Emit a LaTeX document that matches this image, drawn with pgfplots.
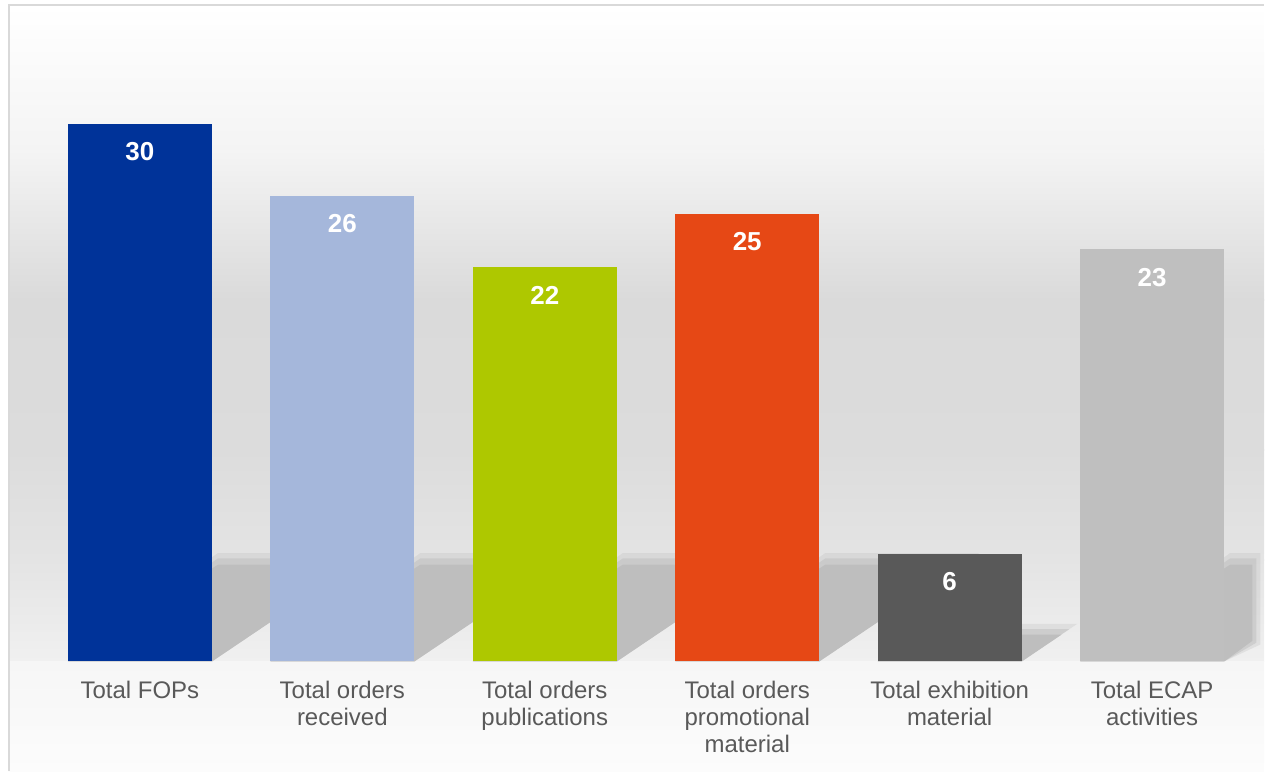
\documentclass[border=0pt]{standalone}
\usepackage{pgfplots}
\pgfplotsset{compat=1.18}
\usepackage{fontspec}
\setmainfont{Liberation Sans}
\definecolor{c1}{HTML}{003399}
\definecolor{c2}{HTML}{A5B7DB}
\definecolor{c3}{HTML}{AEC800}
\definecolor{c4}{HTML}{E64815}
\definecolor{c5}{HTML}{595959}
\definecolor{c6}{HTML}{BFBFBF}
\definecolor{shadowc}{HTML}{BEBEBE}
\definecolor{framec}{HTML}{D9D9D9}
\definecolor{labelc}{HTML}{595959}
\definecolor{g1}{HTML}{F4F4F4}
\definecolor{g2}{HTML}{DADADA}
\definecolor{g3}{HTML}{DCDCDC}
\definecolor{g4}{HTML}{E4E4E4}
\definecolor{g5}{HTML}{F0F0F0}
\definecolor{g6}{HTML}{F6F6F6}
\definecolor{g7}{HTML}{FCFCFC}
\pgfplotsset{
  shadowA/.style={mark=none, fill=shadowc, draw=none, fill opacity=0.3},
  shadowB/.style={mark=none, fill=shadowc, draw=none, fill opacity=0.5},
  shadowin/.style={mark=none, fill=shadowc, draw=none},
  mybar/.style={ybar, bar width=0.711, bar shift=0pt, draw=none, nodes near coords},
}
\begin{document}
\begin{tikzpicture}
\begin{axis}[
  set layers,
  scale only axis, width=628pt, height=328.5pt,
  xmin=-0.6466, xmax=5.5528, ymin=0, ymax=36.642,
  clip=false, axis line style={draw=none},
  /pgf/number format/assume math mode=true,
  ytick=\empty, xtick={0,1,2,3,4,5}, major tick length=0pt,
  xticklabels={{Total FOPs},{Total orders\\received},{Total orders\\publications},{Total orders\\promotional\\material},{Total exhibition\\material},{Total ECAP\\activities}},
  xticklabel style={align=center, font=\fontsize{12}{13.5}\selectfont, text=labelc, yshift=-6.5pt},
  every node near coord/.append style={text=white, font=\fontsize{13}{15}\selectfont\bfseries, anchor=north, yshift=-5.9pt},
]
\begin{pgfonlayer}{axis background}
\shade[top color=white, bottom color=g1] (axis cs:-0.6466,36.642) rectangle (axis cs:5.5528,28.50);
\shade[top color=g1, bottom color=g2] (axis cs:-0.6466,28.55) rectangle (axis cs:5.5528,20.15);
\shade[top color=g2, bottom color=g3] (axis cs:-0.6466,20.19) rectangle (axis cs:5.5528,11.78);
\shade[top color=g3, bottom color=g4] (axis cs:-0.6466,11.82) rectangle (axis cs:5.5528,5.65);
\shade[top color=g4, bottom color=g5] (axis cs:-0.6466,5.69) rectangle (axis cs:5.5528,0);
\shade[top color=g6, bottom color=g7] (axis cs:-0.6466,0) rectangle (axis cs:5.5528,-6.135);
\draw[framec, line width=1pt] (axis cs:-0.6466,-6.135) -- (axis cs:-0.6466,36.642) -- (axis cs:5.5528,36.642);
\end{pgfonlayer}
% shadows (outermost soft part)
\addplot[shadowA] coordinates {(-0.3554,0) (0.3554,0) (1.1458,6.05) (0.3850,6.05)} -- cycle;
\addplot[shadowA] coordinates {(0.6446,0) (1.3554,0) (2.1458,6.05) (1.3850,6.05)} -- cycle;
\addplot[shadowA] coordinates {(1.6446,0) (2.3554,0) (3.1458,6.05) (2.3850,6.05)} -- cycle;
\addplot[shadowA] coordinates {(2.6446,0) (3.3554,0) (4.1458,6.05) (3.3850,6.05)} -- cycle;
\addplot[shadowA] coordinates {(3.6446,0) (4.3554,0) (4.6300,2.10) (3.8667,2.10)} -- cycle;
\addplot[shadowA] coordinates {(4.6446,0) (5.3554,0) (5.535,0.95) (5.535,6.05) (5.385,6.05)} -- cycle;
% shadows (middle)
\addplot[shadowB] coordinates {(-0.3554,0) (0.3554,0) (1.1058,5.75) (0.3850,5.75)} -- cycle;
\addplot[shadowB] coordinates {(0.6446,0) (1.3554,0) (2.1058,5.75) (1.3850,5.75)} -- cycle;
\addplot[shadowB] coordinates {(1.6446,0) (2.3554,0) (3.1058,5.75) (2.3850,5.75)} -- cycle;
\addplot[shadowB] coordinates {(2.6446,0) (3.3554,0) (4.1058,5.75) (3.3850,5.75)} -- cycle;
\addplot[shadowB] coordinates {(3.6446,0) (4.3554,0) (4.5900,1.80) (3.8667,1.80)} -- cycle;
\addplot[shadowB] coordinates {(4.6446,0) (5.3554,0) (5.515,1.05) (5.515,5.75) (5.385,5.75)} -- cycle;
% shadows (core)
\addplot[shadowin] coordinates {(-0.3554,0) (0.3554,0) (1.0658,5.40) (0.3850,5.40)} -- cycle;
\addplot[shadowin] coordinates {(0.6446,0) (1.3554,0) (2.0658,5.40) (1.3850,5.40)} -- cycle;
\addplot[shadowin] coordinates {(1.6446,0) (2.3554,0) (3.0658,5.40) (2.3850,5.40)} -- cycle;
\addplot[shadowin] coordinates {(2.6446,0) (3.3554,0) (4.0658,5.40) (3.3850,5.40)} -- cycle;
\addplot[shadowin] coordinates {(3.6446,0) (4.3554,0) (4.5525,1.50) (3.8667,1.50)} -- cycle;
\addplot[shadowin] coordinates {(4.6446,0) (5.3554,0) (5.495,1.15) (5.495,5.40) (5.385,5.40)} -- cycle;
% bars
\addplot[mybar, fill=c1] coordinates {(0,30)};
\addplot[mybar, fill=c2] coordinates {(1,26)};
\addplot[mybar, fill=c3] coordinates {(2,22)};
\addplot[mybar, fill=c4] coordinates {(3,25)};
\addplot[mybar, fill=c5] coordinates {(4,6)};
\addplot[mybar, fill=c6] coordinates {(5,23)};
\path (axis cs:-0.6910,36.921) (axis cs:5.5528,-6.135);
\end{axis}
\end{tikzpicture}
\end{document}
